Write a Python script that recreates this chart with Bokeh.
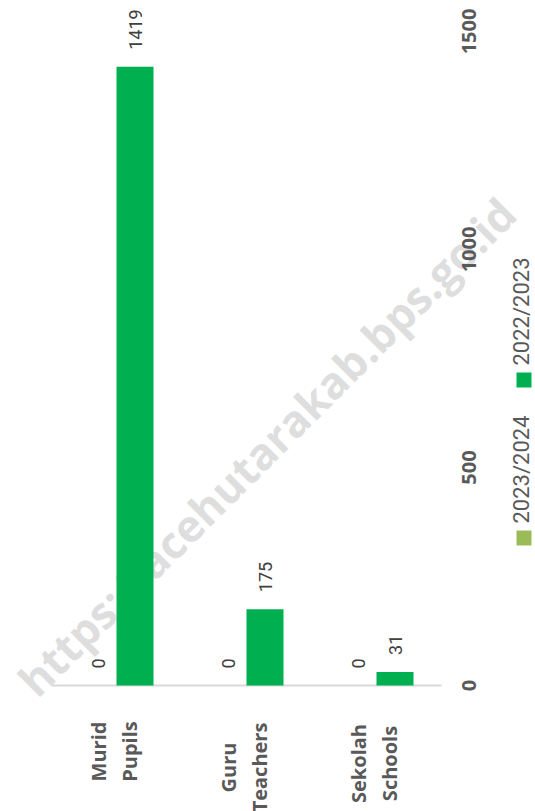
import math
from bokeh.plotting import figure
from bokeh.models import Range1d
from bokeh.core.properties import value
from bokeh.embed import file_html
from bokeh.resources import INLINE

# ---------------- data ----------------
cat_line1 = ["Murid", "Guru", "Sekolah"]
cat_line2 = ["Pupils", "Teachers", "Schools"]
series_names = ["2023/2024", "2022/2023"]
values_2023_2024 = [0, 0, 0]
values_2022_2023 = [1419, 175, 31]
value_ticks = [0, 500, 1000, 1500]
series_colors = ["#9BBB59", "#00B050"]
watermark = "https://acehutarakab.bps.go.id"

# ---------------- layout ----------------
W, H = 535, 811
ORIGIN = 0            # page offset of the figure
PX_X = 130.0          # pixels per category unit
PX_Y = 0.436          # pixels per value unit
X0_PAGE = 116.0       # page x of first category centre
Y0_PAGE = 685.0       # page y of value 0

def dx(px):   # page x -> data x
    return (px - X0_PAGE) / PX_X

def dy(py):   # page y -> data y
    return (Y0_PAGE - py) / PX_Y

p = figure(width=W, height=H, output_backend="svg", toolbar_location=None,
           x_range=Range1d(dx(ORIGIN), dx(ORIGIN + W)),
           y_range=Range1d(dy(ORIGIN + H), dy(ORIGIN)),
           min_border=0, min_border_left=0, min_border_right=0,
           min_border_top=0, min_border_bottom=0)
p.xaxis.visible = False
p.yaxis.visible = False
p.xgrid.visible = False
p.ygrid.visible = False
p.outline_line_color = None
p.background_fill_color = "white"
p.border_fill_color = "white"

idx = list(range(len(cat_line1)))
off = 18.5 / PX_X
bw = 37 / PX_X

# watermark (behind everything)
p.text(x=[dx(266)], y=[dy(446)], text=[watermark], angle=math.pi / 4,
       text_align="center", text_baseline="middle",
       text_font=value("Open Sans"), text_font_style="bold",
       text_font_size="44px", text_color="#dedede")

# baseline
p.segment(x0=[-0.5], y0=[0], x1=[len(idx) - 0.5], y1=[0],
          line_color="#d9d9d9", line_width=2)

# bars
x_a = [i - off for i in idx]
x_b = [i + off for i in idx]
p.vbar(x=x_a, top=values_2023_2024, bottom=0, width=bw,
       fill_color=series_colors[0], line_color=None)
p.vbar(x=x_b, top=values_2022_2023, bottom=0, width=bw,
       fill_color=series_colors[1], line_color=None)

# value labels
for xs, vs in ((x_a, values_2023_2024), (x_b, values_2022_2023)):
    p.text(x=xs, y=vs, text=[str(v) for v in vs], angle=math.pi / 2,
           y_offset=-17, text_align="left", text_baseline="middle",
           text_font=value("Roboto"), text_font_size="18px",
           text_color="#404040")

# category labels (two lines, rotated)
label_center_page = [751, 767, 763]
cy = [dy(v) for v in label_center_page]
p.text(x=[i - 18 / PX_X for i in idx], y=cy, text=cat_line1, angle=math.pi / 2,
       text_align="center", text_baseline="middle",
       text_font=value("Open Sans"), text_font_style="bold",
       text_font_size="20px", text_color="#595959")
p.text(x=[i + 13 / PX_X for i in idx], y=cy, text=cat_line2, angle=math.pi / 2,
       text_align="center", text_baseline="middle",
       text_font=value("Open Sans"), text_font_style="bold",
       text_font_size="20px", text_color="#595959")

# value tick labels
p.text(x=[dx(468)] * len(value_ticks), y=value_ticks,
       text=[str(t) for t in value_ticks], angle=math.pi / 2,
       text_align="center", text_baseline="middle",
       text_font=value("Open Sans"), text_font_style="bold",
       text_font_size="20px", text_color="#595959")

# legend (rotated)
leg_sq_y = [dy(537.5), dy(379.5)]
leg_tx_y = [dy(523), dy(365)]
p.scatter(x=[dx(523.5)] * 2, y=leg_sq_y, marker="square", size=15,
          fill_color=series_colors, line_color=None)
p.text(x=[dx(521)] * 2, y=leg_tx_y, text=series_names, angle=math.pi / 2,
       text_align="left", text_baseline="middle",
       text_font=value("Roboto"), text_font_size="22px",
       text_color="#595959")

open("out.html", "w").write(file_html(p, INLINE))
